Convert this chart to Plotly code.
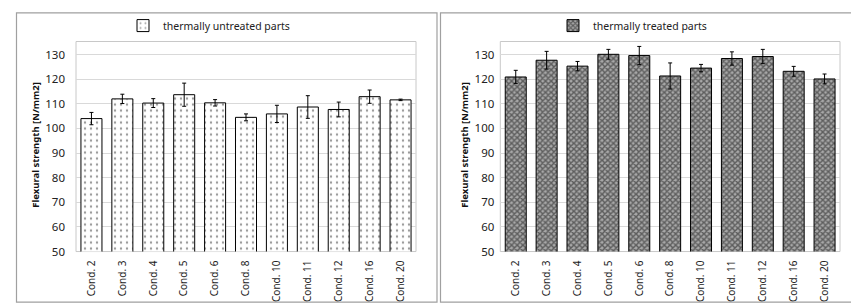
import plotly.graph_objects as go

categories = ["Cond. 2", "Cond. 3", "Cond. 4", "Cond. 5", "Cond. 6", "Cond. 8",
              "Cond. 10", "Cond. 11", "Cond. 12", "Cond. 16", "Cond. 20"]
untreated = [104.0, 112.0, 110.3, 113.7, 110.4, 104.5, 105.9, 108.7, 107.7, 112.9, 111.6]
untreated_err = [2.5, 1.9, 1.8, 4.7, 1.3, 1.4, 3.5, 4.6, 3.0, 2.7, 0.3]
treated = [120.9, 127.7, 125.3, 130.1, 129.6, 121.3, 124.5, 128.4, 129.2, 123.2, 120.1]
treated_err = [2.7, 3.6, 1.9, 2.0, 3.7, 5.3, 1.5, 2.7, 2.9, 2.0, 2.0]
y_ticks = [50, 60, 70, 80, 90, 100, 110, 120, 130]

W, H = 859, 304
FONT = "Noto Sans"

fig = go.Figure()
fig.add_trace(go.Bar(
    x=categories, y=untreated, name="thermally untreated parts",
    xaxis="x", yaxis="y", legend="legend",
    marker=dict(color="white", line=dict(color="black", width=1),
                pattern=dict(shape=".", size=6, solidity=0.12, fgcolor="#333333", bgcolor="white")),
    error_y=dict(type="data", array=untreated_err, color="black", thickness=1, width=2),
    width=0.68,
))
fig.add_trace(go.Bar(
    x=categories, y=treated, name="thermally treated parts",
    xaxis="x2", yaxis="y2", legend="legend2",
    marker=dict(color="#a8a8a8", line=dict(color="black", width=1),
                pattern=dict(shape="x", size=4, solidity=0.6, fgcolor="#111111", bgcolor="#a8a8a8")),
    error_y=dict(type="data", array=treated_err, color="black", thickness=1, width=2),
    width=0.68,
))

ydom = [1 - 249.3 / H, 1 - 34.3 / H]
yrange = [50, 135.3]
common_y = dict(range=yrange, tickvals=y_ticks, showgrid=True, gridcolor="#d9d9d9", gridwidth=1,
                zeroline=False, showline=False, ticks="",
                tickfont=dict(family=FONT, size=11.5, color="#222222"), domain=ydom, fixedrange=True)
common_x = dict(showgrid=False, zeroline=False, showline=False, ticks="", tickangle=-90,
                ticklabelstandoff=6, tickfont=dict(family=FONT, size=10, color="#222222"))

legend_common = dict(yanchor="middle", xanchor="left", bgcolor="rgba(0,0,0,0)",
                     font=dict(family=FONT, size=10.5, color="#222222"), itemwidth=30)

fig.update_layout(
    width=W, height=H, margin=dict(l=0, r=0, t=0, b=0),
    paper_bgcolor="white", plot_bgcolor="white",
    bargap=0.32,
    xaxis=dict(domain=[68 / W, 408 / W], anchor="y", **common_x),
    yaxis=dict(anchor="x", ticklabelstandoff=10, **common_y),
    xaxis2=dict(domain=[492.3 / W, 832 / W], anchor="y2", **common_x),
    yaxis2=dict(anchor="x2", ticklabelstandoff=5, **common_y),
    legend=dict(x=(165 - 50) / W, y=1 - 18 / H, **legend_common),
    legend2=dict(x=(595 - 50) / W, y=1 - 18 / H, **legend_common),
    showlegend=True,
)

shapes = []
shapes.append(dict(type="rect", xref="paper", yref="paper", x0=8.5 / W, x1=429 / W,
                   y0=1 - 301 / H, y1=1 - 5 / H, line=dict(color="#a0a0a0", width=1.2)))
shapes.append(dict(type="rect", xref="paper", yref="paper", x0=432.5 / W, x1=857.5 / W,
                   y0=1 - 301 / H, y1=1 - 5 / H, line=dict(color="#a0a0a0", width=1.2)))
for xa, ya in (("x", "y"), ("x2", "y2")):
    shapes.append(dict(type="rect", xref=f"{xa} domain", yref=f"{ya} domain", x0=0, x1=1, y0=0, y1=1,
                       line=dict(color="#c8c8c8", width=1), layer="below"))
fig.update_layout(shapes=shapes)

for xpos in (28 / W, 457 / W):
    fig.add_annotation(text="<b>Flexural strength [N/mm2]</b>", xref="paper", yref="paper",
                       x=xpos, y=1 - 140 / H, xanchor="center", yanchor="middle",
                       textangle=-90, showarrow=False,
                       font=dict(family=FONT, size=9.5, color="#111111"))

fig.write_html("out.html")
